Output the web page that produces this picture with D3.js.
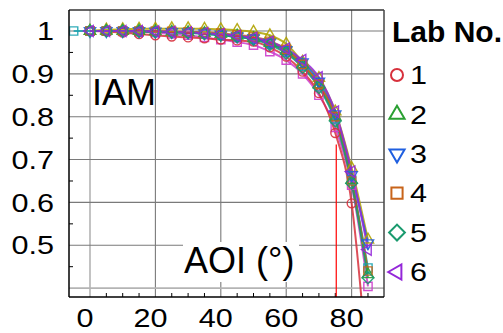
<!DOCTYPE html>
<meta charset="utf-8">
<style>
body { margin: 0; background: #fff; }
text { font-family: 'Liberation Sans', Arial, Helvetica, sans-serif; fill: #000; }
</style>
<body>
<div id="chart"></div>
<script src="https://d3js.org/d3.v7.min.js"></script>
<script>
const width = 503, height = 333;
const margin = {top: 10, right: 119, bottom: 36, left: 69};
const plotW = width - margin.left - margin.right,
      plotH = height - margin.top - margin.bottom;

// AOI (deg) and IAM
const aoi = [0, 5, 10, 15, 20, 25, 30, 35, 40, 45, 50, 55, 60, 65, 70, 75, 80, 85];
const aoiWide = [-5, 0, 5, 10, 15, 20, 25, 30, 35, 40, 45, 50, 55, 60, 65, 70, 75, 80, 85];
const lab1 = [1.000, 0.999, 0.996, 0.993, 0.990, 0.987, 0.985, 0.983, 0.980, 0.978, 0.975, 0.962, 0.940, 0.905, 0.855, 0.762, 0.598, 0.200];
const lab2 = [1.000, 1.000, 1.000, 1.000, 0.999, 0.998, 0.997, 0.995, 0.993, 0.989, 0.983, 0.972, 0.953, 0.922, 0.875, 0.800, 0.652, 0.432];
const lab3 = [1.000, 1.000, 1.000, 1.000, 0.999, 0.998, 0.997, 0.995, 0.992, 0.988, 0.983, 0.973, 0.956, 0.927, 0.882, 0.806, 0.664, 0.505];
const lab4 = [1.000, 1.000, 1.000, 1.000, 1.000, 0.999, 0.998, 0.997, 0.995, 0.991, 0.986, 0.976, 0.957, 0.922, 0.876, 0.800, 0.650, 0.440];
const lab5 = [1.000, 1.000, 1.000, 0.999, 0.998, 0.997, 0.996, 0.994, 0.990, 0.986, 0.980, 0.968, 0.948, 0.915, 0.868, 0.790, 0.645, 0.424];
const lab6 = [1.000, 1.000, 1.000, 1.000, 0.999, 0.998, 0.997, 0.995, 0.993, 0.989, 0.984, 0.975, 0.959, 0.932, 0.892, 0.812, 0.672, 0.490];
const lab7 = [1.000, 1.003, 1.004, 1.005, 1.005, 1.006, 1.006, 1.005, 1.004, 1.002, 0.998, 0.990, 0.970, 0.928, 0.890, 0.812, 0.680, 0.513];
const lab8 = [1.000, 1.000, 0.999, 0.998, 0.996, 0.993, 0.990, 0.985, 0.980, 0.974, 0.967, 0.952, 0.932, 0.900, 0.850, 0.775, 0.640, 0.404];
const lab9 = [1.000, 1.000, 1.000, 1.000, 0.999, 0.998, 0.997, 0.996, 0.993, 0.990, 0.986, 0.981, 0.970, 0.950, 0.918, 0.870, 0.795, 0.652, 0.447];

const labNames = ["1", "2", "3", "4", "5", "6"];
const xTicks = [0, 20, 40, 60, 80];
const xMinor = [5, 10, 15, 25, 30, 35, 45, 50, 55, 65, 70, 75, 85];
const yTicks = [0.5, 0.6, 0.7, 0.8, 0.9, 1];
const yTickLabels = ["0.5", "0.6", "0.7", "0.8", "0.9", "1"];
const yGrid = [0.4, 0.5, 0.6, 0.7, 0.8, 0.9, 1];
const yMinor = [0.45, 0.55, 0.65, 0.75, 0.85, 0.95];
const cutoff = {aoi: 75.3, iamTop: 0.735};

const colors = ["#d7303c", "#2aa032", "#1f5fe0", "#c8641a", "#1a9a6e", "#9427d9", "#b0a300", "#cc3ccc", "#1aa3b0"];
const shapes = ["circle", "up", "down", "square", "diamond", "left", "up", "square", "square"];

const series = [
	{name: "7", x: aoi, y: lab7, c: 6},
	{name: "8", x: aoi, y: lab8, c: 7},
	{name: "9", x: aoiWide, y: lab9, c: 8},
	{name: "1", x: aoi, y: lab1, c: 0},
	{name: "2", x: aoi, y: lab2, c: 1},
	{name: "3", x: aoi, y: lab3, c: 2},
	{name: "4", x: aoi, y: lab4, c: 3},
	{name: "5", x: aoi, y: lab5, c: 4},
	{name: "6", x: aoi, y: lab6, c: 5}
];

const x = d3.scaleLinear().domain([-6.42, 89.9]).range([0, plotW]);
const y = d3.scaleLinear().domain([0.3793, 1.049]).range([plotH, 0]);

const svg = d3.select("#chart").append("svg")
	.attr("width", width)
	.attr("height", height);

svg.append("defs").append("clipPath").attr("id", "clip")
	.append("rect").attr("width", plotW).attr("height", plotH);

const g = svg.append("g").attr("transform", "translate(" + margin.left + "," + margin.top + ")");

// symbol path for a marker, s = linear size factor
function marker(shape, s) {
	const base = {circle: [d3.symbolCircle, 113], up: [d3.symbolTriangle, 100], down: [d3.symbolTriangle, 100],
		square: [d3.symbolSquare, 125], diamond: [d3.symbolSquare, 125], left: [d3.symbolTriangle, 100]}[shape];
	return d3.symbol().type(base[0]).size(base[1] * s * s)();
}
const rot = {circle: 0, up: 0, down: 180, square: 0, diamond: 45, left: -90};

// grid
g.append("g").selectAll("line").data(xTicks).join("line")
	.attr("x1", d => x(d)).attr("x2", d => x(d))
	.attr("y1", 0).attr("y2", plotH)
	.attr("stroke", d => d === 0 ? "#b4b4b4" : "#7a7a7a")
	.attr("stroke-width", d => d === 0 ? 1.6 : 1.1);
g.append("g").selectAll("line").data(yGrid).join("line")
	.attr("x1", 0).attr("x2", plotW)
	.attr("y1", d => y(d)).attr("y2", d => y(d))
	.attr("stroke", d => d === 0.4 ? "#b4b4b4" : "#7a7a7a")
	.attr("stroke-width", d => d === 0.4 ? 1.6 : 1.1);

// minor ticks, inward
g.append("g").selectAll("line").data(xMinor).join("line")
	.attr("x1", d => x(d)).attr("x2", d => x(d))
	.attr("y1", plotH).attr("y2", plotH - 4)
	.attr("stroke", "#000").attr("stroke-width", 1);
g.append("g").selectAll("line").data(yMinor).join("line")
	.attr("x1", 0).attr("x2", 4)
	.attr("y1", d => y(d)).attr("y2", d => y(d))
	.attr("stroke", "#000").attr("stroke-width", 1);

// in-plot labels
g.append("rect").attr("x", 114).attr("y", 232).attr("width", 116).attr("height", 40).attr("fill", "#fff");
g.append("text").attr("x", 23).attr("y", 95).style("font-size", "36px").text("IAM");
g.append("text").attr("x", 115).attr("y", 263).style("font-size", "36px").text("AOI (°)");

// red cutoff line
g.append("line")
	.attr("x1", x(cutoff.aoi)).attr("x2", x(cutoff.aoi))
	.attr("y1", y(cutoff.iamTop)).attr("y2", plotH)
	.attr("stroke", "#ff0000").attr("stroke-width", 1.2);

// series
const line = d3.line().curve(d3.curveMonotoneX);
const data = g.append("g").attr("clip-path", "url(#clip)");
series.forEach(function(s) {
	const pts = s.x.map((v, i) => [x(v), y(s.y[i])]);
	data.append("path")
		.attr("d", line(pts))
		.attr("fill", "none")
		.attr("stroke", colors[s.c])
		.attr("stroke-width", 2)
		.attr("stroke-opacity", 0.85);
});
series.forEach(function(s) {
	const shape = shapes[s.c];
	data.append("g").selectAll("path").data(s.x.map((v, i) => [v, s.y[i]])).join("path")
		.attr("d", marker(shape, 0.74))
		.attr("transform", d => "translate(" + x(d[0]) + "," + y(d[1]) + ") rotate(" + rot[shape] + ")")
		.attr("fill", "none")
		.attr("stroke", colors[s.c])
		.attr("stroke-width", 1.4)
		.attr("stroke-opacity", 0.9);
});

// frame
g.append("line").attr("x1", 0).attr("x2", plotW).attr("y1", 0).attr("y2", 0).attr("stroke", "#333").attr("stroke-width", 1.5);
g.append("line").attr("x1", plotW).attr("x2", plotW).attr("y1", 0).attr("y2", plotH).attr("stroke", "#444").attr("stroke-width", 1.5);
g.append("line").attr("x1", 0).attr("x2", 0).attr("y1", 0).attr("y2", plotH).attr("stroke", "#000").attr("stroke-width", 1.5);
g.append("line").attr("x1", 0).attr("x2", plotW).attr("y1", plotH).attr("y2", plotH).attr("stroke", "#000").attr("stroke-width", 1.5);

// tick labels (digits drawn a little wide, as in the original)
const sx = 1.2;
g.append("g").selectAll("text").data(yTicks).join("text")
	.attr("transform", d => "translate(-15," + y(d) + ") scale(" + sx + ",1)")
	.attr("text-anchor", "end")
	.attr("dy", "0.36em")
	.style("font-size", "25.5px")
	.text((d, i) => yTickLabels[i]);
g.append("g").selectAll("text").data(xTicks).join("text")
	.attr("transform", d => "translate(" + (x(d) - 5) + "," + (plotH + 30) + ") scale(" + sx + ",1)")
	.attr("text-anchor", "middle")
	.style("font-size", "25.5px")
	.text(d => d);

// legend
const legend = svg.append("g").attr("transform", "translate(392,0)");
legend.append("text").attr("x", 0).attr("y", 41.5)
	.style("font-size", "30px").style("font-weight", "bold")
	.text("Lab No.");
const items = legend.selectAll(".item").data(labNames).join("g")
	.attr("class", "item")
	.attr("transform", (d, i) => "translate(0," + (75 + i * 39.4) + ")");
items.append("path")
	.attr("d", (d, i) => marker(shapes[i], 1))
	.attr("transform", (d, i) => "translate(5,0) rotate(" + rot[shapes[i]] + ")")
	.attr("fill", "none")
	.attr("stroke", (d, i) => colors[i])
	.attr("stroke-width", 2);
items.append("text")
	.attr("transform", "translate(18,0) scale(" + sx + ",1)")
	.attr("dy", "0.36em")
	.style("font-size", "25.5px")
	.text(d => d);
</script>
</body>
